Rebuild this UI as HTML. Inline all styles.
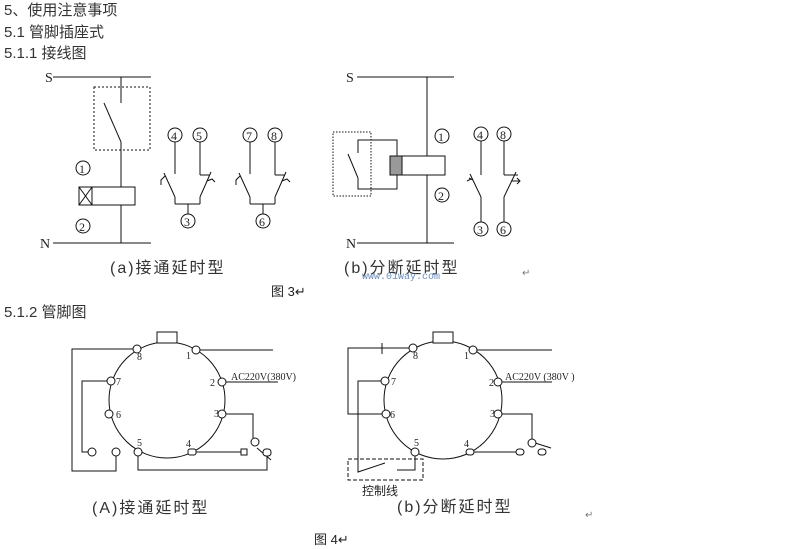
<!DOCTYPE html>
<html><head><meta charset="utf-8"><style>
html,body{margin:0;padding:0;background:#fff;width:795px;height:549px;overflow:hidden}
svg{display:block}
text{font-family:"Liberation Serif","Noto Serif CJK SC",serif;fill:#222}
.h{font-family:"Liberation Sans","Noto Sans CJK SC",sans-serif;font-size:15px;fill:#333}
.cap{font-family:"Liberation Sans","Noto Sans CJK SC",sans-serif;font-size:15px;fill:#333;letter-spacing:2px}
.s{font-size:10px}
</style></head><body>
<svg width="795" height="549" viewBox="0 0 795 549" xmlns="http://www.w3.org/2000/svg" stroke="#111" fill="none" stroke-width="1">
<g stroke="none">
<text class="h" x="4" y="15">5、使用注意事项</text>
<text class="h" x="4" y="37">5.1  管脚插座式</text>
<text class="h" x="4" y="58">5.1.1  接线图</text>
<text class="h" x="4" y="317">5.1.2  管脚图</text>
</g>
<!-- Fig 3a -->
<line x1="53" y1="77" x2="151" y2="77"/>
<line x1="53" y1="243" x2="151" y2="243"/>
<line x1="121" y1="77" x2="121" y2="103"/>
<rect x="94" y="87" width="56" height="63" stroke-dasharray="2,2"/>
<line x1="104" y1="103" x2="121" y2="142"/>
<line x1="121" y1="142" x2="121" y2="187"/>
<rect x="79" y="187" width="56" height="18"/>
<rect x="79" y="187" width="13" height="18"/>
<line x1="79" y1="187" x2="92" y2="205"/><line x1="92" y1="187" x2="79" y2="205"/>
<line x1="121" y1="205" x2="121" y2="243"/>
<circle cx="83" cy="168" r="7"/><circle cx="83" cy="226" r="7"/>
<g stroke="none" font-size="12"><text x="79" y="173">1</text><text x="79" y="231">2</text>
<text x="45" y="82" font-size="14">S</text><text x="40" y="248" font-size="14">N</text></g>
<g id="ct">
<circle cx="175" cy="135" r="7"/><circle cx="200" cy="135" r="7"/><circle cx="188" cy="221" r="7"/>
<line x1="175" y1="142" x2="175" y2="174"/>
<line x1="164" y1="173" x2="175" y2="197"/><path d="M165 176 l-4 4 l0 5"/>
<line x1="175" y1="197" x2="175" y2="204"/><line x1="175" y1="204" x2="200" y2="204"/>
<line x1="188" y1="204" x2="188" y2="214"/>
<line x1="200" y1="142" x2="200" y2="175"/><line x1="200" y1="175" x2="210" y2="175"/>
<line x1="211" y1="172" x2="200" y2="197"/><path d="M207 181 l5 -2 l3 3"/>
<line x1="200" y1="197" x2="200" y2="204"/>
</g>
<use href="#ct" x="75"/>
<g stroke="none" font-size="12">
<text x="171" y="140">4</text><text x="196" y="140">5</text><text x="184" y="226">3</text>
<text x="246" y="140">7</text><text x="271" y="140">8</text><text x="259" y="226">6</text></g>
<text class="cap" x="110" y="273" stroke="none" style="font-size:16px">(a)接通延时型</text>
<!-- Fig 3b -->
<line x1="357" y1="77" x2="454" y2="77"/>
<line x1="357" y1="243" x2="454" y2="243"/>
<line x1="427" y1="77" x2="427" y2="156"/><line x1="427" y1="175" x2="427" y2="243"/>
<rect x="390" y="156" width="55" height="19"/>
<rect x="390" y="156" width="12" height="19" fill="#999"/>
<rect x="333" y="132" width="38" height="64" stroke-dasharray="1.5,1.5"/>
<path d="M397 156 V140 H358 V153"/><path d="M397 175 V189 H358 V178"/>
<line x1="348" y1="154" x2="358" y2="178"/>
<circle cx="442" cy="136" r="7"/><circle cx="442" cy="195" r="7"/>
<circle cx="481" cy="134" r="7"/><circle cx="504" cy="134" r="7"/>
<circle cx="481" cy="229" r="7"/><circle cx="504" cy="229" r="7"/>
<line x1="481" y1="141" x2="481" y2="175"/><line x1="470" y1="174" x2="481" y2="197"/>
<path d="M473 180 l-4 -2 M471 179 l-4 2"/>
<line x1="481" y1="197" x2="481" y2="222"/>
<line x1="504" y1="141" x2="504" y2="175"/><line x1="504" y1="175" x2="518" y2="175"/>
<line x1="516" y1="172" x2="504" y2="197"/><path d="M511 181 h9 M517 178 l3 3 l-3 3"/>
<line x1="504" y1="197" x2="504" y2="222"/>
<g stroke="none" font-size="12">
<text x="438" y="141">1</text><text x="438" y="200">2</text>
<text x="477" y="139">4</text><text x="500" y="139">8</text><text x="477" y="234">3</text><text x="500" y="234">6</text>
<text x="346" y="82" font-size="14">S</text><text x="346" y="248" font-size="14">N</text></g>
<text class="cap" x="344" y="273" stroke="none" style="font-size:16px">(b)分断延时型</text>
<text x="362" y="279" stroke="none" font-size="10" style="fill:#6a8fbf;font-family:'Liberation Mono',monospace">www.01way.com</text>
<text x="522" y="276" stroke="none" font-size="10" style="fill:#777">↵</text>
<text x="271" y="296" stroke="none" style="font-family:'Liberation Sans','Noto Sans CJK SC',sans-serif;font-size:13px">图 3↵</text>
<!-- Fig 4a -->
<circle cx="167" cy="400" r="58"/>
<rect x="157" y="332" width="20" height="11" fill="#fff"/>
<path d="M137 349 H72 V471 H116 V456"/>
<path d="M111 381 H82 V452 H88"/>
<line x1="196" y1="350" x2="273" y2="350"/>
<line x1="222" y1="382" x2="278" y2="382"/>
<path d="M222 414 H253 V438"/>
<line x1="257" y1="448" x2="271" y2="460"/>
<path d="M138 452 V470 H267 V456"/>
<line x1="192" y1="452" x2="241" y2="452"/>
<g fill="#fff">
<circle cx="137" cy="349" r="4"/><circle cx="196" cy="350" r="4"/><circle cx="222" cy="382" r="4"/><circle cx="222" cy="414" r="4"/>
<rect x="188" y="449" width="8" height="6" rx="2"/><circle cx="138" cy="452" r="4"/><circle cx="109" cy="414" r="4"/><circle cx="111" cy="381" r="4"/>
<circle cx="92" cy="452" r="4"/><circle cx="116" cy="452" r="4"/><circle cx="255" cy="442" r="4"/>
<rect x="263" y="449" width="8" height="7" rx="3"/><rect x="241" y="449" width="6" height="6"/>
</g>
<g stroke="none" class="s">
<text x="137" y="360">8</text><text x="186" y="359">1</text><text x="210" y="386">2</text><text x="214" y="417">3</text>
<text x="186" y="447">4</text><text x="137" y="446">5</text><text x="116" y="418">6</text><text x="116" y="385">7</text>
<text x="231" y="380">AC220V(380V)</text></g>
<text class="cap" x="92" y="513" stroke="none" style="font-size:16px">(A)接通延时型</text>
<!-- Fig 4b -->
<circle cx="443" cy="400" r="59"/>
<rect x="433" y="332" width="20" height="11" fill="#fff"/>
<path d="M413 348 H348 V414 H386"/>
<path d="M382 343 V354"/>
<path d="M385 381 H358 V472 L385 463"/>
<path d="M397 470 H415 V452"/>
<rect x="348" y="459" width="75" height="21" stroke-dasharray="4,2"/>
<line x1="473" y1="350" x2="552" y2="350"/>
<line x1="498" y1="382" x2="552" y2="382"/>
<path d="M498 414 H532 V440"/>
<line x1="535" y1="443" x2="551" y2="448"/>
<line x1="470" y1="452" x2="516" y2="452"/>
<g fill="#fff">
<circle cx="413" cy="348" r="4"/><circle cx="473" cy="350" r="4"/><circle cx="498" cy="382" r="4"/><circle cx="498" cy="414" r="4"/>
<rect x="466" y="449" width="8" height="6" rx="3"/><circle cx="415" cy="452" r="4"/><circle cx="386" cy="414" r="4"/><circle cx="385" cy="381" r="4"/>
<circle cx="532" cy="443" r="4"/><rect x="516" y="449" width="8" height="6" rx="3"/><rect x="538" y="449" width="8" height="6" rx="3"/>
</g>
<g stroke="none" class="s">
<text x="413" y="359">8</text><text x="464" y="359">1</text><text x="489" y="386">2</text><text x="490" y="417">3</text>
<text x="464" y="447">4</text><text x="414" y="446">5</text><text x="390" y="418">6</text><text x="391" y="385">7</text>
<text x="505" y="380">AC220V (380V )</text>
<text x="362" y="495" style="font-family:'Noto Sans CJK SC',sans-serif;font-size:12px">控制线</text></g>
<text class="cap" x="397" y="512" stroke="none" style="font-size:16px">(b)分断延时型</text>
<text x="585" y="518" stroke="none" font-size="10" style="fill:#777">↵</text>
<text x="314" y="544" stroke="none" style="font-family:'Liberation Sans','Noto Sans CJK SC',sans-serif;font-size:13px">图 4↵</text>
</svg>
</body></html>
